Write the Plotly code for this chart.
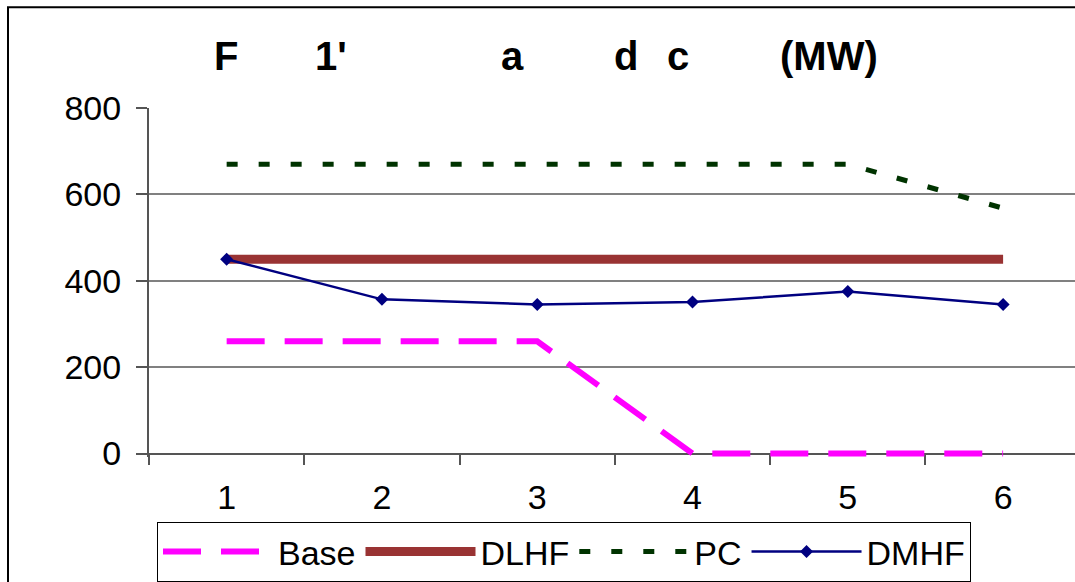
import plotly.graph_objects as go

categories = ["1", "2", "3", "4", "5", "6"]
base = [260, 260, 260, 0, 0, 0]
dlhf = [450, 450, 450, 450, 450, 450]
pc = [670, 670, 670, 670, 670, 568]
dmhf = [450, 357, 345, 351, 375, 345]
title_parts = ["F", "1'", "a", "d", "c", "(MW)"]
y_ticks = [0, 200, 400, 600, 800]

W, H = 1075, 582
L, R, T, B0 = 149, 1075, 108, 454   # B0: pixel row of value 0
YMIN, YMAX = -8, 800
B = B0 + (B0 - T) * (0 - YMIN) / (YMAX - 0)   # plot area bottom (slightly below 0 so the line at 0 is not clipped)
def px(x):
    return (x - L) / (R - L)
def py(y):
    return (B - y) / (B - T)

FONT = "Arial, Liberation Sans, sans-serif"

fig = go.Figure()
fig.add_trace(go.Scatter(x=categories, y=base, name="Base", mode="lines", cliponaxis=False,
                         line=dict(color="#FF00FF", width=6, dash="38px,20px")))
fig.add_trace(go.Scatter(x=categories, y=dlhf, name="DLHF", mode="lines",
                         line=dict(color="#993333", width=9)))
fig.add_trace(go.Scatter(x=categories, y=pc, name="PC", mode="lines",
                         line=dict(color="#003300", width=5, dash="11px,21px")))
fig.add_trace(go.Scatter(x=categories, y=dmhf, name="DMHF", mode="lines+markers",
                         line=dict(color="#000080", width=2.5),
                         marker=dict(symbol="diamond", size=10, color="#000080")))

title_x = [226, 331, 512, 626, 678, 829]
for t, x in zip(title_parts, title_x):
    fig.add_annotation(text="<b>%s</b>" % t, x=px(x), y=py(56), xref="paper", yref="paper",
                       xanchor="center", yanchor="middle", showarrow=False,
                       font=dict(family=FONT, size=40, color="black"))

# outer chart border (cut off at right/bottom)
fig.add_shape(type="rect", xref="paper", yref="paper",
              x0=px(8), x1=px(1200), y0=py(7), y1=py(700),
              line=dict(color="black", width=2), fillcolor="rgba(0,0,0,0)", layer="below")

fig.update_layout(
    width=W, height=H,
    margin=dict(l=L, r=W - R, t=T, b=H - B, pad=0),
    paper_bgcolor="white", plot_bgcolor="white",
    font=dict(family=FONT, size=34, color="black"),
    showlegend=True,
    legend=dict(orientation="h", x=px(157), xanchor="left", y=py(523), yanchor="top",
                bordercolor="black", borderwidth=1, font=dict(size=34),
                itemwidth=110),
    xaxis=dict(type="category", range=[-0.5, 5.463], tickson="boundaries",
               anchor="free", position=py(B0), layer="below traces",
               ticks="outside", ticklen=10, tickwidth=1.5, tickcolor="#555",
               showline=True, linecolor="#555", linewidth=2,
               showgrid=False, zeroline=False, ticklabelstandoff=14),
    yaxis=dict(range=[YMIN, YMAX], tickvals=y_ticks, ticks="outside", ticklen=11,
               layer="below traces",
               tickwidth=1.5, tickcolor="#555", showline=True, linecolor="#555",
               linewidth=2, showgrid=True, gridcolor="#808080", gridwidth=2,
               zeroline=False, ticklabelstandoff=8),
)

fig.write_html("out.html")
